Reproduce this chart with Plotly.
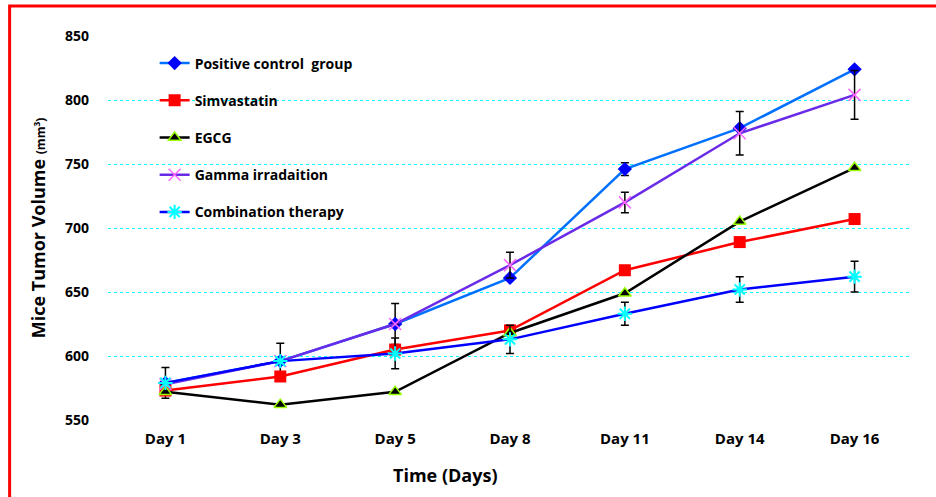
import plotly.graph_objects as go

days = ["Day 1", "Day 3", "Day 5", "Day 8", "Day 11", "Day 14", "Day 16"]

positive = [579, 596, 625, 661, 746, 778, 824]
simva = [573, 584, 605, 620, 667, 689, 707]
egcg = [572, 562, 572, 618, 649, 705, 747]
gamma = [578, 596, 625, 671, 720, 774, 804]
combo = [579, 596, 602, 613, 633, 652, 662]

positive_err = [12, 14, 16, 0, 5, 0, 0]
gamma_err = [0, 0, 0, 10, 8, 17, 19]
combo_err = [0, 0, 12, 11, 9, 10, 12]

FONT = "Open Sans"

PL, PR, PT, PB = 107.5, 912.5, 36, 420   # plot area in screen pixels
W, H = 936, 497

fig = go.Figure()

def add(name, y, line_color, marker, err=None, lw=2.5):
    tr = go.Scatter(
        x=days, y=y, name=name, mode="lines+markers",
        line=dict(color=line_color, width=lw),
        marker=marker, legendgroup=name,
    )
    if err is not None:
        tr.error_y = dict(type="data", array=err, visible=True,
                          color="black", thickness=1.5, width=4)
    fig.add_trace(tr)

add("Positive control  group", positive, "#0070FF",
    dict(symbol="diamond", size=11, color="#0000FF"), positive_err)
add("Simvastatin", simva, "#FF0000",
    dict(symbol="square", size=12, color="#FF0000"))
add("EGCG", egcg, "#000000",
    dict(symbol="triangle-up", size=11, color="#000000",
         line=dict(color="#99FF00", width=1.5)))
add("Gamma irradaition", gamma, "#6A2BE8",
    dict(symbol="x-thin", size=12, color="#FF66FF",
         line=dict(color="#FF66FF", width=1.5)), gamma_err)
add("Combination therapy", combo, "#0000FF",
    dict(symbol="asterisk", size=12, color="#00FFFF",
         line=dict(color="#00FFFF", width=2)), combo_err)

pw = PR - PL
ph = PB - PT

fig.update_layout(
    width=W, height=H,
    margin=dict(l=PL, r=W - PR, t=PT, b=H - PB),
    paper_bgcolor="white", plot_bgcolor="white",
    font=dict(family=FONT, size=14, color="black", weight="bold"),
    showlegend=True,
    legend=dict(
        x=0.058, y=0.970, xanchor="left", yanchor="top",
        bgcolor="rgba(0,0,0,0)",
        font=dict(family=FONT, size=14, color="black", weight="bold"),
        tracegroupgap=16, traceorder="grouped",
        itemwidth=30,
    ),
    xaxis=dict(
        type="category", range=[-0.5, 6.5],
        showgrid=False, showline=False, zeroline=False, ticks="",
        ticklabelstandoff=8,
        tickfont=dict(family=FONT, size=15, color="black", weight="bold"),
    ),
    yaxis=dict(
        range=[550, 850], tickvals=[550, 600, 650, 700, 750, 800, 850],
        showgrid=True, gridcolor="#00FFFF", griddash="dot", gridwidth=1,
        showline=False, zeroline=False, ticks="",
        ticklabelstandoff=18,
        tickfont=dict(family=FONT, size=14, color="black", weight="bold"),
        title=dict(
            text="Mice Tumor Volume <span style='font-size:12px'>(mm<sup>3</sup>)</span>",
            font=dict(family=FONT, size=18, color="black", weight="bold"),
            standoff=14,
        ),
    ),
    annotations=[dict(
        text="Time (Days)", xref="paper", yref="paper",
        x=(445 - PL) / pw, y=-(475 - PB) / ph,
        xanchor="center", yanchor="middle", showarrow=False,
        font=dict(family=FONT, size=18, color="black", weight="bold"),
    )],
    shapes=[dict(
        type="path", xref="paper", yref="paper",
        path="M %f %f L %f %f L %f %f" % (
            (9 - PL) / pw, -0.3,
            (9 - PL) / pw, 1 + (PT - 6) / ph,
            1.1, 1 + (PT - 6) / ph),
        line=dict(color="#FF0000", width=3), layer="above",
    )],
)
fig.write_html("out.html", config={"displayModeBar": False},
               post_script="document.body.style.margin='0';")
